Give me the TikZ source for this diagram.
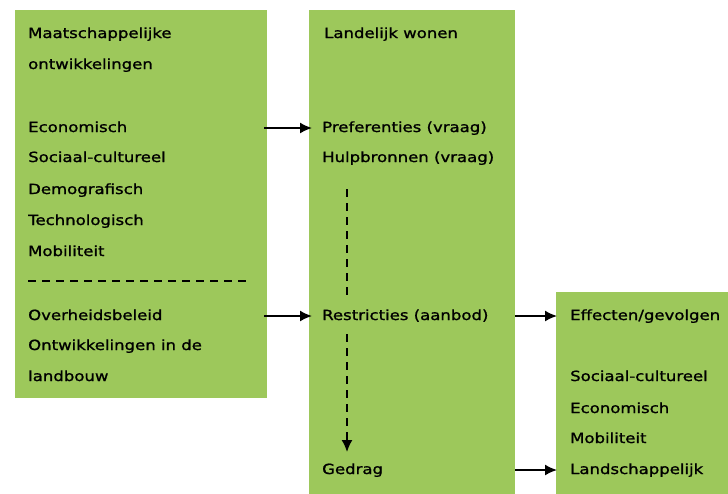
\documentclass[tikz,border=0pt]{standalone}
\usepackage{fontspec}
\setmainfont{DejaVu Sans}[FakeStretch=1.18, FakeBold=1.2]
\usetikzlibrary{arrows.meta}
\definecolor{boxgreen}{HTML}{9DC85B}
\tikzset{
  panel/.style={fill=boxgreen, draw=none, rectangle, inner sep=0pt, anchor=north west},
  lbl/.style={anchor=base west, inner sep=0pt, font=\fontsize{14}{16}\selectfont},
  flow/.style={line width=1.6pt, -{Latex[length=12pt,width=11pt]}},
  dflow/.style={line width=1.6pt, dash pattern=on 8pt off 6pt, -{Latex[length=12pt,width=11pt]}},
  dline/.style={line width=1.6pt, dash pattern=on 8pt off 6pt}
}
\begin{document}
\begin{tikzpicture}[x=1pt,y=-1pt]
\useasboundingbox (0,0) rectangle (728,493);
% panels
\node[panel, minimum width=252pt, minimum height=388pt] (b1) at (15,10) {};
\node[panel, minimum width=206pt, minimum height=490pt] (b2) at (309,10) {};
\node[panel, minimum width=180pt, minimum height=210pt] (b3) at (556,292) {};
% box 1 texts
\node[lbl] (t1) at (28,38) {Maatschappelijke};
\node[lbl] (t2) at (28,69) {ontwikkelingen};
\node[lbl] (t3) at (28,132) {Economisch};
\node[lbl] (t4) at (28,162) {Sociaal-cultureel};
\node[lbl] (t5) at (28,194) {Demografisch};
\node[lbl] (t6) at (28,225) {Technologisch};
\node[lbl] (t7) at (28,256) {Mobiliteit};
\coordinate (ds) at (28,281);
\coordinate (de) at (246,281);
\draw[dline] (ds) -- (de);
\node[lbl] (t8) at (28,320) {Overheidsbeleid};
\node[lbl] (t9) at (28,350) {Ontwikkelingen in de};
\node[lbl] (t10) at (28,381) {landbouw};
% box 2 texts
\node[lbl] (u1) at (324,38) {Landelijk wonen};
\node[lbl] (pref) at (322,132) {Preferenties (vraag)};
\node[lbl] (hulp) at (322,162) {Hulpbronnen (vraag)};
\node[lbl] (restr) at (322,320) {Restricties (aanbod)};
\node[lbl] (gedrag) at (322,474) {Gedrag};
% box 3 texts
\node[lbl] (eff) at (570,320) {Effecten/gevolgen};
\node[lbl] (v1) at (570,381) {Sociaal-cultureel};
\node[lbl] (v2) at (570,413) {Economisch};
\node[lbl] (v3) at (570,443) {Mobiliteit};
\node[lbl] (land) at (570,474) {Landschappelijk};
% arrows
\coordinate (a1s) at (264,128); \coordinate (a1e) at (312,128);
\coordinate (a2s) at (264,316); \coordinate (a2e) at (312,316);
\coordinate (a3s) at (515,316); \coordinate (a3e) at (557,316);
\coordinate (a4s) at (515,470); \coordinate (a4e) at (557,470);
\draw[flow] (a1s) -- (a1e);
\draw[flow] (a2s) -- (a2e);
\draw[flow] (a3s) -- (a3e);
\draw[flow] (a4s) -- (a4e);
% dashed vertical
\coordinate (v1s) at (347,189); \coordinate (v1e) at (347,300);
\coordinate (v2s) at (347,334); \coordinate (v2e) at (347,452);
\draw[dline] (v1s) -- (v1e);
\draw[dflow] (v2s) -- (v2e);
\end{tikzpicture}
\end{document}
